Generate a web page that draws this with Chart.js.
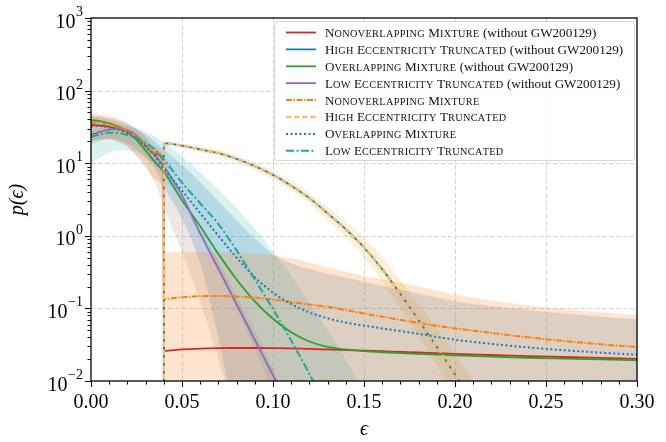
<!DOCTYPE html>
<html>
<head>
<meta charset="utf-8">
<script src="https://cdn.jsdelivr.net/npm/chart.js@4.4.1/dist/chart.umd.min.js"></script>
<style>
  html, body { margin: 0; padding: 0; background: #fff; }
  canvas { display: block; }
</style>
</head>
<body>
<canvas id="chart" width="666" height="442"></canvas>
<script>
// --- x grids (eccentricity) ---
const EPS = [0, 0.005, 0.01, 0.015, 0.02, 0.025, 0.03, 0.035, 0.04, 0.05, 0.06, 0.07, 0.08, 0.09, 0.10,
  0.11, 0.12, 0.13, 0.14, 0.15, 0.16, 0.18, 0.20, 0.22, 0.24, 0.26, 0.28, 0.30];
const EPS_SPLIT = [0, 0.005, 0.01, 0.015, 0.02, 0.025, 0.03, 0.035, 0.0399, 0.04, 0.05, 0.06, 0.07, 0.08,
  0.09, 0.10, 0.11, 0.12, 0.13, 0.14, 0.15, 0.16, 0.18, 0.20, 0.22, 0.24, 0.26, 0.28, 0.30];
const EPS_HIGH = [0.04, 0.0401, 0.05, 0.06, 0.07, 0.08, 0.09, 0.10, 0.11, 0.12, 0.13, 0.14, 0.15, 0.16,
  0.17, 0.18, 0.19, 0.20, 0.21];
const EPS_TAN = [0.0401, 0.05, 0.06, 0.07, 0.08, 0.09, 0.10, 0.11, 0.12, 0.13, 0.14, 0.15, 0.16, 0.17,
  0.18, 0.19, 0.20, 0.21, 0.22];

// --- median curves p(eps) ---
const nonovNo = [33.5, 33, 32, 30, 27, 22.5, 17.5, 13.5, 10.5,
  0.026, 0.0272, 0.0279, 0.0283, 0.0285, 0.0285, 0.0284, 0.0281, 0.0277, 0.0272, 0.0267, 0.0262, 0.0257,
  0.0247, 0.0236, 0.0228, 0.022, 0.0214, 0.0208, 0.0202];
const highEccNo = [0.003, 18.9, 17.4, 15.5, 13.8, 11.5, 9.1, 6.9, 4.9, 3.3, 2.04, 1.23, 0.69, 0.347,
  0.158, 0.069, 0.0295, 0.0123, 0.0048];
const overNo = [39, 38, 35.5, 32, 27, 21, 15, 10.5, 7.7, 3.1, 1.35, 0.56, 0.25, 0.125, 0.072, 0.047,
  0.035, 0.0295, 0.0272, 0.0258, 0.0249, 0.0236, 0.0225, 0.0216, 0.0209, 0.0203, 0.0198, 0.0193];
const lowEccNo = [24.5, 27, 29, 30, 28.5, 24, 18, 13, 9, 3.6, 1.08, 0.35, 0.114, 0.037, 0.012, 0.0039,
  0.0013, null, null, null, null, null, null, null, null, null, null, null];
const nonovWith = [36, 35.3, 33.5, 31, 27.5, 23, 18, 14, 11,
  0.135, 0.142, 0.147, 0.148, 0.146, 0.14, 0.132, 0.122, 0.113, 0.105, 0.095, 0.085, 0.077,
  0.063, 0.053, 0.046, 0.04, 0.0355, 0.032, 0.0294];
const highEccWith = [0.003, 18.9, 17.4, 15.5, 13.8, 11.5, 9.1, 6.9, 4.9, 3.3, 2.04, 1.23, 0.69, 0.347,
  0.158, 0.069, 0.0295, 0.0123, 0.0048];
const overWith = [32, 32.5, 31, 29, 26, 21.5, 17, 12.5, 8.5, 4.2, 2.05, 1.0, 0.5, 0.27, 0.165, 0.115,
  0.088, 0.073, 0.064, 0.058, 0.053, 0.0447, 0.037, 0.0324, 0.0291, 0.0265, 0.0246, 0.0231];
const lowEccWith = [23, 25, 26.3, 26, 24.5, 22, 19, 15.5, 11.3, 5.4, 2.8, 1.45, 0.63, 0.25, 0.098, 0.036,
  0.0125, 0.004, null, null, null, null, null, null, null, null, null, null];

// --- 90% bands ---
const nonovUp = [48, 47, 45, 41, 36, 30, 23, 17, 12,
  0.59, 0.6, 0.6, 0.6, 0.59, 0.57, 0.54, 0.49, 0.43, 0.37, 0.32, 0.28, 0.25, 0.2, 0.155, 0.128, 0.11,
  0.098, 0.088, 0.082];
const nonovLo = [20, 21, 21, 19.5, 17, 13, 9.5, 6, 3.5,
  0.002, 0.002, 0.002, 0.002, 0.002, 0.002, 0.002, 0.002, 0.002, 0.002, 0.002, 0.002, 0.002, 0.002,
  0.002, 0.002, 0.002, 0.002, 0.002, 0.002];
const overUp = [45, 44, 42, 39, 35, 30, 25, 20, 15.5, 9.5, 5.5, 3.0, 1.65, 0.92, 0.56, 0.42, 0.35, 0.3,
  0.265, 0.232, 0.205, 0.16, 0.125, 0.107, 0.095, 0.085, 0.077, 0.071];
const overLo = [20, 21, 21.5, 20.5, 18.5, 15.5, 12, 8.5, 4.8, 1.7, 0.42, 0.04, 0.003, 0.002, 0.002,
  0.002, 0.002, 0.002, 0.002, 0.002, 0.002, 0.002, 0.002, 0.002, 0.002, 0.002, 0.002, 0.002];
const lowEccUp = [28, 30, 33, 33, 32, 30, 27, 23.5, 19.5, 12.5, 7.5, 4.3, 2.4, 1.25, 0.6, 0.28, 0.12,
  0.05, 0.02, 0.007, 0.003, 0.002, 0.002, 0.002, 0.002, 0.002, 0.002, 0.002];
const lowEccLo = [10, 12, 14, 15, 15, 14, 12, 9.5, 6.5, 2.8, 1.0, 0.33, 0.1, 0.028, 0.007, 0.002, 0.002,
  0.002, 0.002, 0.002, 0.002, 0.002, 0.002, 0.002, 0.002, 0.002, 0.002, 0.002];
const fanUp = [44, 43, 40, 37, 33, 28, 22, 16.5, 12, 3, 1.2, 0.45, 0.15, 0.05, 0.015, 0.004, 0.002,
  0.002, 0.002, 0.002, 0.002, 0.002, 0.002, 0.002, 0.002, 0.002, 0.002, 0.002];
const fanLo = [18, 20, 22, 20, 17, 12.5, 8.5, 5.5, 2.5, 0.6, 0.12, 0.02, 0.003, 0.002, 0.002, 0.002,
  0.002, 0.002, 0.002, 0.002, 0.002, 0.002, 0.002, 0.002, 0.002, 0.002, 0.002, 0.002];
const highEccUp = [20.3, 18.8, 16.9, 15.2, 12.8, 10.3, 7.9, 5.7, 3.9, 2.5, 1.55, 0.95, 0.51, 0.245, 0.115,
  0.053, 0.024, 0.0098, 0.0036];
const highEccLo = [17.6, 16.1, 14.2, 12.5, 10.3, 8.0, 6.0, 4.2, 2.78, 1.65, 0.96, 0.5, 0.235, 0.1, 0.041,
  0.016, 0.006, 0.002, 0.0008];

const X_TICKS = [0, 0.05, 0.10, 0.15, 0.20, 0.25, 0.30];
const Y_DECADES = [-2, -1, 0, 1, 2, 3];

const SERIF = '"Liberation Serif", "DejaVu Serif", serif';

const pts = (xs, ys) => xs.map((x, i) => ({ x: x, y: ys[i] }));

function band(xs, lo, hi, color) {
  const base = { pointRadius: 0, borderWidth: 0, borderColor: 'transparent', order: 50,
    cubicInterpolationMode: 'monotone' };
  return [
    Object.assign({ data: pts(xs, lo), fill: false }, base),
    Object.assign({ data: pts(xs, hi), fill: '-1', backgroundColor: color }, base)
  ];
}

let legendCount = 0;
function line(label, xs, ys, color, dash, width) {
  legendCount++;
  return { label: label, data: pts(xs, ys), borderColor: color, borderDash: dash, borderWidth: width,
    pointRadius: 0, fill: false, order: 20 - legendCount, legendRow: legendCount - 1,
    cubicInterpolationMode: 'monotone', borderCapStyle: 'butt', borderJoinStyle: 'round' };
}

const datasets = [].concat(
  band(EPS_SPLIT, nonovLo, nonovUp, 'rgba(255,127,14,0.2)'),
  band(EPS, overLo, overUp, 'rgba(31,119,180,0.19)'),
  band(EPS, lowEccLo, lowEccUp, 'rgba(32,178,170,0.17)'),
  band(EPS, fanLo, fanUp, 'rgba(150,105,95,0.16)'),
  band(EPS_TAN, highEccLo, highEccUp, 'rgba(236,190,100,0.25)'),
  [
    line('Nonoverlapping Mixture (without GW200129)', EPS_SPLIT, nonovNo, '#d62728', [], 1.8),
    line('High Eccentricity Truncated (without GW200129)', EPS_HIGH, highEccNo, '#1f77b4', [], 1.8),
    line('Overlapping Mixture (without GW200129)', EPS, overNo, '#2ca02c', [], 1.8),
    line('Low Eccentricity Truncated (without GW200129)', EPS, lowEccNo, '#9467bd', [], 1.8),
    line('Nonoverlapping Mixture', EPS_SPLIT, nonovWith, '#ff7f0e', [6, 1.5, 1.5, 1.5], 2),
    line('High Eccentricity Truncated', EPS_HIGH, highEccWith, '#ebc276', [5.5, 2.5], 2.4),
    line('Overlapping Mixture', EPS, overWith, '#1f77b4', [2, 2.5], 2),
    line('Low Eccentricity Truncated', EPS, lowEccWith, '#21a69a', [8, 2.5, 2, 2.5], 2)
  ]
);

// --- small caps legend text ---
function capsText(ctx, label, x, y, size, draw) {
  const cut = label.indexOf(' (');
  const caps = cut < 0 ? label : label.slice(0, cut);
  const tail = cut < 0 ? '' : label.slice(cut);
  let cx = x;
  for (const ch of caps) {
    const small = ch !== ch.toUpperCase();
    ctx.font = (small ? size * 0.78 : size) + 'px ' + SERIF;
    const g = ch.toUpperCase();
    if (draw) ctx.fillText(g, cx, y);
    cx += ctx.measureText(g).width + (small ? 0.35 : 0);
  }
  ctx.font = size + 'px ' + SERIF;
  if (draw) ctx.fillText(tail, cx, y);
  cx += ctx.measureText(tail).width;
  return cx - x;
}

const axesPlugin = {
  id: 'axesDecor',
  beforeDraw(chart) {
    const ctx = chart.ctx, a = chart.chartArea;
    const xs = chart.scales.x, ys = chart.scales.y;
    ctx.save();
    ctx.fillStyle = '#fff';
    ctx.fillRect(0, 0, chart.width, chart.height);
    ctx.strokeStyle = '#d3d3d3';
    ctx.lineWidth = 1;
    ctx.setLineDash([4.5, 2.5]);
    X_TICKS.slice(1, -1).forEach(v => {
      const px = Math.round(xs.getPixelForValue(v)) + 0.5;
      ctx.beginPath(); ctx.moveTo(px, a.top); ctx.lineTo(px, a.bottom); ctx.stroke();
    });
    Y_DECADES.slice(1, -1).forEach(d => {
      const py = Math.round(ys.getPixelForValue(Math.pow(10, d))) + 0.5;
      ctx.beginPath(); ctx.moveTo(a.left, py); ctx.lineTo(a.right, py); ctx.stroke();
    });
    ctx.restore();
  },
  afterDatasetsDraw(chart) {
    const ctx = chart.ctx, a = chart.chartArea;
    const xs = chart.scales.x, ys = chart.scales.y;
    ctx.save();
    ctx.setLineDash([]);
    ctx.strokeStyle = '#000';
    // ticks
    ctx.lineWidth = 1;
    for (let i = 0; i <= 30; i++) {
      const px = Math.round(xs.getPixelForValue(i / 100)) + 0.5;
      const len = i % 5 === 0 ? 6 : 3.5;
      ctx.beginPath(); ctx.moveTo(px, a.bottom); ctx.lineTo(px, a.bottom + len); ctx.stroke();
    }
    for (let d = -2; d <= 2; d++) {
      for (let m = 1; m <= 9; m++) {
        const py = Math.round(ys.getPixelForValue(m * Math.pow(10, d))) + 0.5;
        const len = m === 1 ? 6 : 3.5;
        ctx.beginPath(); ctx.moveTo(a.left, py); ctx.lineTo(a.left - len, py); ctx.stroke();
      }
    }
    const pTop = Math.round(ys.getPixelForValue(1000)) + 0.5;
    ctx.beginPath(); ctx.moveTo(a.left, pTop); ctx.lineTo(a.left - 6, pTop); ctx.stroke();
    // frame
    ctx.lineWidth = 1.3;
    ctx.strokeRect(a.left, a.top, a.right - a.left, a.bottom - a.top);
    // y tick labels 10^n
    ctx.fillStyle = '#000';
    ctx.textBaseline = 'alphabetic';
    ctx.textAlign = 'left';
    Y_DECADES.forEach(d => {
      const py = ys.getPixelForValue(Math.pow(10, d));
      const exp = d < 0 ? '\u2212' + (-d) : String(d);
      ctx.font = '14px ' + SERIF;
      const ew = ctx.measureText(exp).width;
      ctx.font = '20px ' + SERIF;
      const bw = ctx.measureText('10').width;
      const ex = 83 - ew;
      ctx.fillText('10', ex - bw - 0.5, py + 9.5);
      ctx.font = '14px ' + SERIF;
      ctx.fillText(exp, ex, py - 2);
    });
    // legend
    const rows = chart.data.datasets.filter(ds => ds.legendRow !== undefined)
      .sort((p, q) => p.legendRow - q.legendRow);
    const size = 12 * 272 / capsText(ctx, rows[0].label, 0, 0, 12, false);
    const box = { x: 274, y: 21, w: 360, h: 139 };
    ctx.beginPath();
    ctx.roundRect(box.x + 0.5, box.y + 0.5, box.w, box.h, 3);
    ctx.fillStyle = 'rgba(255,255,255,0.8)';
    ctx.fill();
    ctx.strokeStyle = 'rgba(204,204,204,0.8)';
    ctx.lineWidth = 1;
    ctx.stroke();
    rows.forEach((ds, i) => {
      const y = 32.5 + i * 16.9;
      ctx.setLineDash(ds.borderDash);
      ctx.strokeStyle = ds.borderColor;
      ctx.lineWidth = ds.borderWidth;
      ctx.beginPath(); ctx.moveTo(286, y); ctx.lineTo(316, y); ctx.stroke();
      ctx.setLineDash([]);
      ctx.fillStyle = '#111';
      capsText(ctx, ds.label, 325, y + size * 0.34, size, true);
    });
    ctx.restore();
  }
};

new Chart(document.getElementById('chart').getContext('2d'), {
  type: 'line',
  data: { datasets: datasets },
  options: {
    responsive: false,
    animation: false,
    devicePixelRatio: 1,
    events: [],
    layout: { padding: { top: 18, right: 29, left: 0, bottom: 0 } },
    plugins: {
      legend: { display: false },
      tooltip: { enabled: false },
      filler: { propagate: false, drawTime: 'beforeDatasetsDraw' }
    },
    scales: {
      x: {
        type: 'linear', min: 0, max: 0.3,
        afterFit: s => { s.height = 61; },
        border: { display: false },
        grid: { display: true, drawOnChartArea: false, drawTicks: true, tickLength: 6, color: 'rgba(0,0,0,0)' },
        ticks: { stepSize: 0.05, autoSkip: false, maxRotation: 0, padding: 4, color: '#000',
          font: { family: SERIF, size: 20 }, callback: v => v.toFixed(2) },
        title: { display: true, text: '\u03f5', color: '#000', padding: { top: 0, bottom: 0 },
          font: { family: SERIF, size: 20, style: 'italic' } }
      },
      y: {
        type: 'logarithmic', min: 0.01, max: 1000,
        afterFit: s => { s.width = 91; },
        border: { display: false },
        grid: { display: false },
        ticks: { display: false },
        title: { display: true, text: 'p(\u03f5)', color: '#000', padding: { top: 6, bottom: 0 },
          font: { family: SERIF, size: 20, style: 'italic' } }
      }
    }
  },
  plugins: [axesPlugin]
});
</script>
</body>
</html>
